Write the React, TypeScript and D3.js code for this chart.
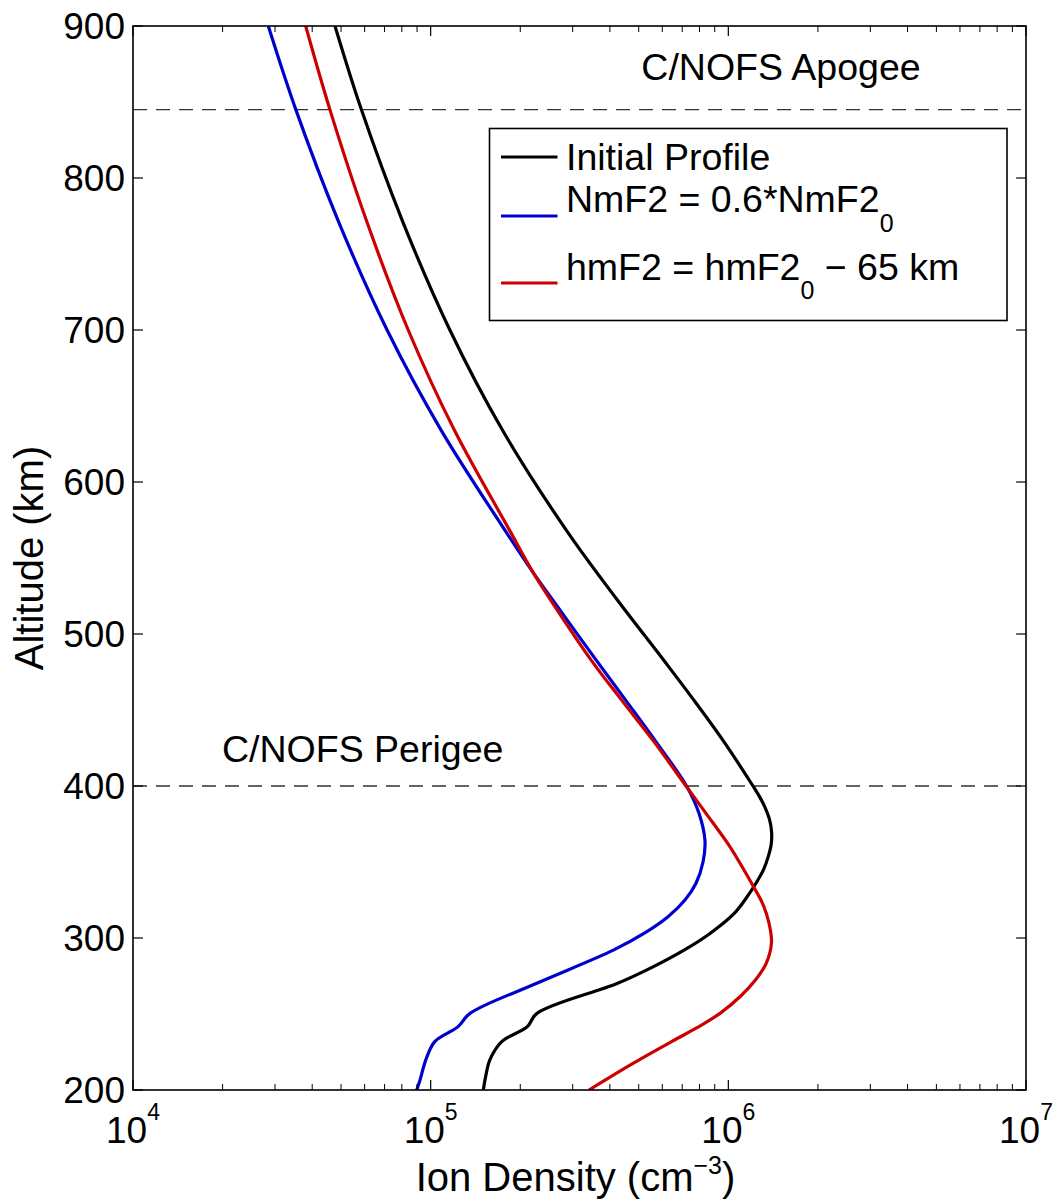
import React from "react";
import * as d3 from "d3";

const xTicks = [1e4, 1e5, 1e6, 1e7];
const xTickExps = ["4", "5", "6", "7"];
const yTicks = [200, 300, 400, 500, 600, 700, 800, 900];

const apogeeAlt = 845;
const perigeeAlt = 400;

const initialAlt = [200, 210, 220, 232, 241.5, 250.4, 270, 281, 292, 303, 316, 326, 336, 345, 354, 362, 370, 378, 386, 393, 400, 430, 457, 483, 523, 568, 634, 700, 772, 845, 900];
const initialDen = [1.503e5, 1.534e5, 1.582e5, 1.736e5, 2.107e5, 2.276e5, 4.227e5, 5.583e5, 7.097e5, 8.678e5, 1.045e6, 1.146e6, 1.238e6, 1.313e6, 1.364e6, 1.394e6, 1.397e6, 1.375e6, 1.328e6, 1.273e6, 1.21e6, 9.596e5, 7.625e5, 6.051e5, 4.214e5, 2.862e5, 1.744e5, 1.16e5, 8.03e4, 5.851e4, 4.77e4];

const nmAlt = [200, 206.6, 215, 222, 232, 241.7, 250.4, 270.2, 292, 303, 314, 325, 336, 350, 364, 382, 400, 430, 457, 483, 523, 540, 568, 634, 700, 772, 845, 900];
const nmDen = [8.976e4, 9.21e4, 9.46e4, 9.72e4, 1.034e5, 1.236e5, 1.356e5, 2.271e5, 4.108e5, 5.207e5, 6.271e5, 7.151e5, 7.788e5, 8.221e5, 8.347e5, 7.969e5, 7.236e5, 5.671e5, 4.498e5, 3.593e5, 2.556e5, 2.216e5, 1.78e5, 1.085e5, 7.139e4, 4.887e4, 3.524e4, 2.848e4];

const hmAlt = [200, 217.5, 232, 241, 250.4, 262, 272, 283, 297, 310, 322, 334, 347, 360, 382, 400, 430, 457, 483, 523, 540, 568, 634, 700, 772, 845, 900];
const hmDen = [3.403e5, 4.783e5, 6.467e5, 7.848e5, 9.376e5, 1.103e6, 1.229e6, 1.338e6, 1.396e6, 1.369e6, 1.308e6, 1.213e6, 1.111e6, 1.013e6, 8.414e5, 7.208e5, 5.583e5, 4.36e5, 3.456e5, 2.517e5, 2.216e5, 1.844e5, 1.202e5, 8.405e4, 6.084e4, 4.587e4, 3.803e4];

const seriesNames = ["Initial Profile", "NmF2 = 0.6*NmF2", "hmF2 = hmF2"];
const seriesColors = ["#000000", "#0000cc", "#cc0000"];

const FONT = "'Liberation Sans', Arial, Helvetica, sans-serif";

export default function App() {
  const W = 1057, H = 1203;
  const left = 133, right = 1026, top = 26, bottom = 1090;
  const x = d3.scaleLog().domain([1e4, 1e7]).range([left, right]);
  const y = d3.scaleLinear().domain([200, 900]).range([bottom, top]);

  const line = d3
    .line<[number, number]>()
    .x((d) => x(d[1]))
    .y((d) => y(d[0]))
    .curve(d3.curveCatmullRom.alpha(0.5));

  const series = [
    { alt: initialAlt, den: initialDen },
    { alt: nmAlt, den: nmDen },
    { alt: hmAlt, den: hmDen },
  ];

  const minor: number[] = [];
  for (let e = 4; e < 7; e++) for (let m = 2; m <= 9; m++) minor.push(m * Math.pow(10, e));

  const fs = 37;
  const fa = 37.5;
  const fl = 40;
  return (
    <svg width={W} height={H} style={{ position: "absolute", left: 0, top: 0, background: "#fff" }} fontFamily={FONT}>
      <rect x={0} y={0} width={W} height={H} fill="#fff" />
      <defs>
        <clipPath id="plotclip">
          <rect x={left} y={top} width={right - left} height={bottom - top} />
        </clipPath>
      </defs>
      {[apogeeAlt, perigeeAlt].map((a) => (
        <line key={a} x1={left} x2={right} y1={y(a)} y2={y(a)} stroke="#333" strokeWidth={1.3} strokeDasharray="14,9" />
      ))}
      <g clipPath="url(#plotclip)">
        {series.map((s, i) => (
          <path
            key={i}
            d={line(s.alt.map((a, j) => [a, s.den[j]] as [number, number])) || ""}
            fill="none"
            stroke={seriesColors[i]}
            strokeWidth={3.2}
            strokeLinejoin="round"
          />
        ))}
      </g>
      {xTicks.map((t) => (
        <g key={t}>
          <line x1={x(t)} x2={x(t)} y1={bottom} y2={bottom - 10} stroke="#000" strokeWidth={1.2} />
          <line x1={x(t)} x2={x(t)} y1={top} y2={top + 10} stroke="#000" strokeWidth={1.2} />
        </g>
      ))}
      {minor.map((t) => (
        <g key={t}>
          <line x1={x(t)} x2={x(t)} y1={bottom} y2={bottom - 6} stroke="#000" strokeWidth={1} />
          <line x1={x(t)} x2={x(t)} y1={top} y2={top + 6} stroke="#000" strokeWidth={1} />
        </g>
      ))}
      {yTicks.map((t) => (
        <g key={t}>
          <line x1={left} x2={left + 10} y1={y(t)} y2={y(t)} stroke="#000" strokeWidth={1.2} />
          <line x1={right} x2={right - 10} y1={y(t)} y2={y(t)} stroke="#000" strokeWidth={1.2} />
          <text x={left - 8} y={y(t)} dy="0.36em" textAnchor="end" fontSize={fs} fill="#000">
            {t}
          </text>
        </g>
      ))}
      {xTicks.map((t, i) => (
        <text key={t} x={x(t)} y={1143} textAnchor="middle" fontSize={fs} fill="#000">
          <tspan>10</tspan>
          <tspan dy={-23} fontSize={23}>{xTickExps[i]}</tspan>
        </text>
      ))}
      <rect x={left} y={top} width={right - left} height={bottom - top} fill="none" stroke="#000" strokeWidth={1.6} />
      <text x={781} y={80} textAnchor="middle" fontSize={fa} fill="#000">C/NOFS Apogee</text>
      <text x={222} y={762} fontSize={fa} fill="#000">C/NOFS Perigee</text>
      <text x={(left + right) / 2 - 4} y={1191} textAnchor="middle" fontSize={fl} fill="#000">
        <tspan>Ion Density (cm</tspan>
        <tspan dy={-17} fontSize={25}>−3</tspan>
        <tspan dy={17}>)</tspan>
      </text>
      <text transform={`translate(43,${(top + bottom) / 2}) rotate(-90)`} textAnchor="middle" fontSize={fl} fill="#000">
        Altitude (km)
      </text>
      <rect x={489.5} y={128.5} width={517.5} height={192} fill="#fff" stroke="#000" strokeWidth={1.6} />
      <line x1={501} x2={557.5} y1={157} y2={157} stroke={seriesColors[0]} strokeWidth={3.2} />
      <line x1={501} x2={557.5} y1={216} y2={216} stroke={seriesColors[1]} strokeWidth={3.2} />
      <line x1={501} x2={557.5} y1={283} y2={283} stroke={seriesColors[2]} strokeWidth={3.2} />
      <text x={566} y={170} fontSize={fa} fill="#000">{seriesNames[0]}</text>
      <text x={566} y={212} fontSize={fa} fill="#000">
        <tspan>{seriesNames[1]}</tspan>
        <tspan dy={20} fontSize={25}>0</tspan>
      </text>
      <text x={566} y={279.5} fontSize={fa} fill="#000">
        <tspan>{seriesNames[2]}</tspan>
        <tspan dy={19} fontSize={25}>0</tspan>
        <tspan dy={-19}> − 65 km</tspan>
      </text>
    </svg>
  );
}
